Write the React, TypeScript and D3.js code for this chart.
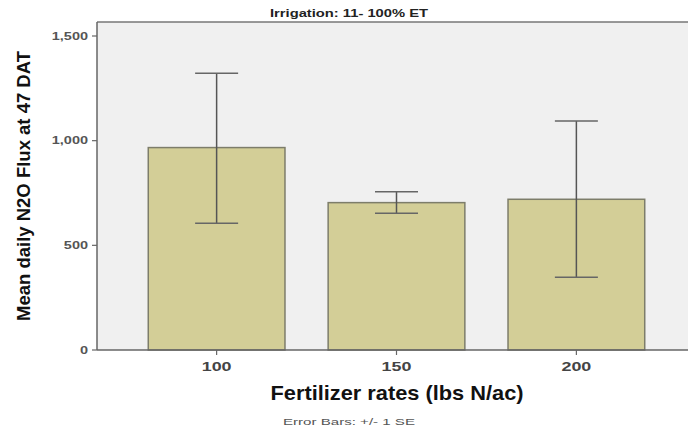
import React from "react";
import * as d3 from "d3";

const categories = ["100", "150", "200"];
const means = [967, 704, 720];
const errLow = [605, 653, 347];
const errHigh = [1322, 756, 1094];
const yTicks = [0, 500, 1000, 1500];

const W = 688;
const H = 433;
const left = 97;
const right = 696;
const top = 22;
const bottom = 350;

export default function App() {
  const x = d3
    .scaleBand<string>()
    .domain(categories)
    .range([left, right])
    .paddingInner(0.24)
    .paddingOuter(0.285);
  const y = d3.scaleLinear().domain([0, 1500]).range([bottom, 36]);
  const fmt = d3.format(",");
  const capW = 43;
  const font = "Liberation Sans, Arial, sans-serif";
  const sx = 1.38;

  return (
    <svg
      width={W}
      height={H}
      style={{ position: "absolute", left: 0, top: 0, display: "block" }}
      fontFamily={font}
    >
      <rect x={0} y={0} width={W} height={H} fill="#ffffff" />
      <rect x={left} y={top} width={right - left} height={bottom - top} fill="#f0f0f0" />
      {categories.map((c, i) => (
        <rect
          key={c}
          x={x(c)!}
          y={y(means[i])}
          width={x.bandwidth()}
          height={bottom - y(means[i])}
          fill="#d3ce97"
          stroke="#7d7d6a"
          strokeWidth={1.5}
        />
      ))}
      {categories.map((c, i) => {
        const cx = x(c)! + x.bandwidth() / 2;
        return (
          <g key={"e" + c} stroke="#555" strokeWidth={1.5}>
            <line x1={cx} x2={cx} y1={y(errHigh[i])} y2={y(errLow[i])} />
            <line x1={cx - capW / 2} x2={cx + capW / 2} y1={y(errHigh[i])} y2={y(errHigh[i])} stroke="#666" />
            <line x1={cx - capW / 2} x2={cx + capW / 2} y1={y(errLow[i])} y2={y(errLow[i])} stroke="#666" />
          </g>
        );
      })}
      {/* axes */}
      <line x1={left} x2={right} y1={top} y2={top} stroke="#777" strokeWidth={1.5} />
      <line x1={left} x2={left} y1={top} y2={bottom} stroke="#666" strokeWidth={1.5} />
      <line x1={left} x2={right} y1={bottom} y2={bottom} stroke="#666" strokeWidth={1.5} />
      {yTicks.map((t) => (
        <g key={t}>
          <line x1={left - 5} x2={left} y1={y(t)} y2={y(t)} stroke="#666" strokeWidth={1.2} />
          <text
            transform={`translate(${left - 9},${y(t)}) scale(${sx},1)`}
            dy="0.35em"
            textAnchor="end"
            fontSize={10.5}
            fontWeight="bold"
            fill="#555"
          >
            {fmt(t)}
          </text>
        </g>
      ))}
      {categories.map((c) => {
        const cx = x(c)! + x.bandwidth() / 2;
        return (
          <g key={"t" + c}>
            <line x1={cx} x2={cx} y1={bottom} y2={bottom + 5} stroke="#666" strokeWidth={1.2} />
            <text
              transform={`translate(${cx},${bottom + 21}) scale(${sx},1)`}
              textAnchor="middle"
              fontSize={13}
              fontWeight="bold"
              fill="#444"
            >
              {c}
            </text>
          </g>
        );
      })}
      <text
        x={349}
        y={17}
        textAnchor="middle"
        fontSize={10.5}
        fontWeight="bold"
        fill="#222"
        textLength={158}
        lengthAdjust="spacingAndGlyphs"
      >
        Irrigation: 11- 100% ET
      </text>
      <text
        transform={`translate(30,186) rotate(-90)`}
        textAnchor="middle"
        fontSize={18.5}
        fontWeight="bold"
        fill="#111"
      >
        Mean daily N2O Flux at 47 DAT
      </text>
      <text
        x={397}
        y={400}
        textAnchor="middle"
        fontSize={21}
        fontWeight="bold"
        fill="#111"
        textLength={253}
        lengthAdjust="spacingAndGlyphs"
      >
        Fertilizer rates (lbs N/ac)
      </text>
      <text
        x={349}
        y={425}
        textAnchor="middle"
        fontSize={9.5}
        fill="#555"
        textLength={132}
        lengthAdjust="spacingAndGlyphs"
      >
        Error Bars: +/- 1 SE
      </text>
    </svg>
  );
}
